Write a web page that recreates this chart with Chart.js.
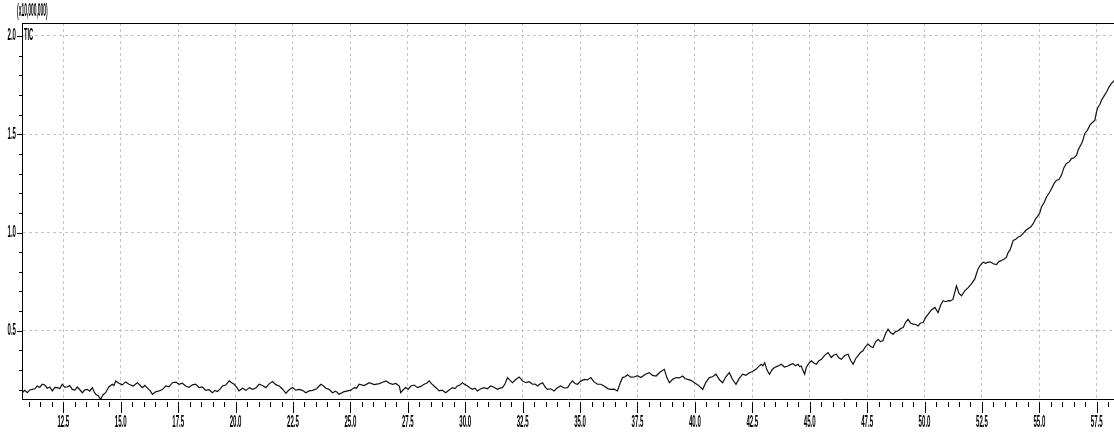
<!DOCTYPE html>
<html>
<head>
<meta charset="utf-8">
<script src="https://cdn.jsdelivr.net/npm/chart.js@4.4.0/dist/chart.umd.min.js"></script>
<style>
  html, body { margin: 0; padding: 0; background: #fff; }
  #wrap { width: 1114px; height: 443px; }
</style>
</head>
<body>
<div id="wrap"><canvas id="myChart" width="1114" height="443"></canvas></div>
<script>
// retention time (min) and TIC intensity (x10,000,000)
const times = [
  10.71, 10.82, 10.93, 11.04, 11.15, 11.26, 11.36, 11.47, 11.58, 11.69, 11.80, 11.91, 12.02, 12.13, 12.24, 12.35,
  12.45, 12.56, 12.67, 12.78, 12.89, 13.00, 13.11, 13.22, 13.33, 13.44, 13.54, 13.65, 13.76, 13.84, 13.91, 14.02,
  14.12, 14.23, 14.34, 14.48, 14.63, 14.70, 14.78, 14.92, 15.07, 15.21, 15.36, 15.54, 15.72, 15.83, 15.94, 16.05,
  16.16, 16.27, 16.38, 16.52, 16.67, 16.81, 16.96, 17.10, 17.25, 17.40, 17.54, 17.68, 17.83, 17.97, 18.12, 18.26,
  18.41, 18.55, 18.70, 18.84, 18.99, 19.10, 19.21, 19.32, 19.43, 19.57, 19.72, 19.83, 19.94, 20.04, 20.15, 20.30,
  20.45, 20.60, 20.74, 20.88, 21.03, 21.17, 21.32, 21.46, 21.61, 21.75, 21.90, 22.04, 22.19, 22.33, 22.48, 22.62,
  22.77, 22.91, 23.06, 23.20, 23.35, 23.53, 23.71, 23.82, 23.93, 24.07, 24.22, 24.36, 24.51, 24.70, 24.88, 25.02,
  25.17, 25.27, 25.38, 25.60, 25.82, 26.04, 26.26, 26.40, 26.55, 26.70, 26.84, 26.98, 27.13, 27.19, 27.30, 27.41,
  27.52, 27.63, 27.78, 27.92, 28.06, 28.21, 28.32, 28.43, 28.54, 28.64, 28.75, 28.86, 29.00, 29.15, 29.30, 29.44,
  29.55, 29.66, 29.77, 29.88, 29.99, 30.10, 30.20, 30.31, 30.42, 30.53, 30.68, 30.82, 30.96, 31.11, 31.25, 31.40,
  31.51, 31.62, 31.73, 31.84, 31.95, 32.06, 32.20, 32.35, 32.50, 32.64, 32.78, 32.93, 33.04, 33.15, 33.26, 33.37,
  33.48, 33.58, 33.72, 33.87, 34.01, 34.16, 34.31, 34.46, 34.56, 34.67, 34.78, 34.89, 35.03, 35.18, 35.32, 35.47,
  35.61, 35.76, 35.90, 36.05, 36.20, 36.34, 36.48, 36.63, 36.74, 36.85, 36.96, 37.07, 37.21, 37.36, 37.50, 37.65,
  37.83, 38.01, 38.16, 38.31, 38.49, 38.67, 38.78, 38.89, 39.03, 39.18, 39.32, 39.47, 39.58, 39.69, 39.83, 39.98,
  40.16, 40.34, 40.48, 40.63, 40.77, 40.92, 41.06, 41.21, 41.35, 41.50, 41.64, 41.79, 41.93, 42.08, 42.22, 42.37,
  42.51, 42.66, 42.77, 42.89, 42.96, 43.04, 43.14, 43.25, 43.36, 43.47, 43.61, 43.76, 43.90, 44.05, 44.16, 44.27,
  44.38, 44.49, 44.56, 44.63, 44.70, 44.78, 44.85, 44.96, 45.07, 45.18, 45.29, 45.40, 45.51, 45.65, 45.80, 45.94,
  46.05, 46.16, 46.27, 46.38, 46.52, 46.67, 46.78, 46.89, 47.00, 47.10, 47.21, 47.32, 47.43, 47.54, 47.65, 47.76,
  47.87, 47.98, 48.08, 48.19, 48.30, 48.41, 48.52, 48.63, 48.74, 48.85, 48.96, 49.07, 49.17, 49.28, 49.39, 49.50,
  49.61, 49.72, 49.83, 49.94, 50.05, 50.16, 50.30, 50.45, 50.59, 50.70, 50.81, 50.92, 51.03, 51.13, 51.24, 51.39,
  51.50, 51.61, 51.75, 51.90, 52.05, 52.19, 52.26, 52.33, 52.44, 52.55, 52.66, 52.77, 52.88, 52.99, 53.13, 53.24,
  53.35, 53.46, 53.57, 53.64, 53.71, 53.78, 53.86, 53.97, 54.08, 54.18, 54.29, 54.40, 54.51, 54.62, 54.73, 54.84,
  54.95, 55.02, 55.09, 55.20, 55.31, 55.42, 55.53, 55.64, 55.75, 55.85, 55.96, 56.07, 56.18, 56.29, 56.40, 56.51,
  56.62, 56.69, 56.76, 56.87, 56.98, 57.09, 57.20, 57.31, 57.42, 57.49, 57.56, 57.63, 57.71, 57.82, 57.93, 58.03,
  58.14, 58.29
]
const intensity = [
  0.185, 0.197, 0.185, 0.199, 0.202, 0.205, 0.219, 0.212, 0.228, 0.224, 0.208, 0.214, 0.194, 0.212, 0.211, 0.206,
  0.228, 0.213, 0.214, 0.221, 0.202, 0.198, 0.214, 0.200, 0.185, 0.200, 0.202, 0.193, 0.211, 0.190, 0.177, 0.170,
  0.151, 0.175, 0.185, 0.214, 0.228, 0.222, 0.245, 0.233, 0.225, 0.240, 0.228, 0.219, 0.236, 0.224, 0.211, 0.222,
  0.208, 0.197, 0.177, 0.190, 0.194, 0.201, 0.219, 0.215, 0.236, 0.239, 0.228, 0.233, 0.219, 0.212, 0.225, 0.229,
  0.211, 0.214, 0.197, 0.200, 0.185, 0.197, 0.191, 0.203, 0.219, 0.224, 0.245, 0.236, 0.228, 0.214, 0.194, 0.208,
  0.197, 0.211, 0.202, 0.209, 0.228, 0.222, 0.211, 0.230, 0.242, 0.226, 0.219, 0.204, 0.182, 0.200, 0.211, 0.198,
  0.202, 0.197, 0.185, 0.194, 0.197, 0.205, 0.228, 0.220, 0.208, 0.202, 0.185, 0.193, 0.177, 0.189, 0.194, 0.198,
  0.211, 0.208, 0.228, 0.221, 0.236, 0.226, 0.231, 0.238, 0.245, 0.233, 0.228, 0.232, 0.219, 0.185, 0.200, 0.211,
  0.203, 0.219, 0.224, 0.211, 0.217, 0.228, 0.233, 0.245, 0.230, 0.219, 0.208, 0.194, 0.198, 0.185, 0.199, 0.211,
  0.206, 0.219, 0.224, 0.236, 0.226, 0.219, 0.210, 0.202, 0.208, 0.194, 0.205, 0.211, 0.205, 0.219, 0.213, 0.202,
  0.208, 0.211, 0.229, 0.262, 0.248, 0.236, 0.252, 0.265, 0.244, 0.236, 0.241, 0.228, 0.229, 0.219, 0.229, 0.236,
  0.214, 0.202, 0.205, 0.194, 0.210, 0.219, 0.209, 0.211, 0.230, 0.245, 0.232, 0.228, 0.244, 0.253, 0.250, 0.262,
  0.240, 0.228, 0.228, 0.219, 0.206, 0.202, 0.203, 0.194, 0.232, 0.262, 0.266, 0.276, 0.264, 0.265, 0.272, 0.262,
  0.278, 0.287, 0.273, 0.270, 0.290, 0.304, 0.262, 0.236, 0.253, 0.262, 0.260, 0.270, 0.256, 0.253, 0.248, 0.236,
  0.222, 0.202, 0.238, 0.262, 0.266, 0.279, 0.252, 0.236, 0.266, 0.287, 0.252, 0.228, 0.258, 0.279, 0.274, 0.287,
  0.293, 0.304, 0.318, 0.330, 0.322, 0.338, 0.300, 0.279, 0.302, 0.313, 0.320, 0.330, 0.316, 0.321, 0.328, 0.333,
  0.322, 0.330, 0.318, 0.321, 0.300, 0.279, 0.313, 0.334, 0.347, 0.336, 0.330, 0.348, 0.355, 0.375, 0.389, 0.364,
  0.377, 0.381, 0.363, 0.355, 0.374, 0.381, 0.350, 0.330, 0.358, 0.372, 0.390, 0.398, 0.420, 0.432, 0.420, 0.415,
  0.444, 0.457, 0.445, 0.449, 0.485, 0.508, 0.490, 0.483, 0.496, 0.500, 0.512, 0.517, 0.542, 0.559, 0.540, 0.534,
  0.532, 0.525, 0.540, 0.542, 0.568, 0.585, 0.606, 0.619, 0.593, 0.630, 0.653, 0.648, 0.653, 0.652, 0.661, 0.729,
  0.690, 0.678, 0.703, 0.720, 0.740, 0.764, 0.790, 0.815, 0.836, 0.849, 0.843, 0.849, 0.850, 0.841, 0.837, 0.852,
  0.858, 0.864, 0.875, 0.898, 0.909, 0.930, 0.960, 0.966, 0.977, 0.982, 0.994, 1.010, 1.019, 1.028, 1.045, 1.070,
  1.087, 1.100, 1.130, 1.150, 1.181, 1.200, 1.223, 1.250, 1.266, 1.270, 1.291, 1.330, 1.351, 1.358, 1.376, 1.380,
  1.393, 1.420, 1.436, 1.460, 1.504, 1.520, 1.546, 1.560, 1.572, 1.615, 1.640, 1.650, 1.674, 1.695, 1.716, 1.740,
  1.759, 1.776
]
const xTicks = [12.5, 15.0, 17.5, 20.0, 22.5, 25.0, 27.5, 30.0, 32.5, 35.0, 37.5, 40.0, 42.5, 45.0, 47.5, 50.0, 52.5, 55.0, 57.5]
const yTicks = [0.5, 1.0, 1.5, 2.0]
const xRange = [10.70, 58.25]
const yRange = [0.153, 2.066]
const unitLabel = "(x10,000,000)"
const traceName = "TIC"

const points = times.map((t, i) => ({ x: t, y: intensity[i] }))

// squeezed bold text, like the instrument software
function squeezed(ctx, text, x, y, size, sx, align) {
  ctx.save()
  ctx.font = "bold " + size + "px 'Liberation Sans', Arial, sans-serif"
  ctx.textBaseline = "middle"
  const w = ctx.measureText(text).width * sx
  let left = x
  if (align === "center") left = x - w / 2
  if (align === "right") left = x - w
  ctx.translate(left, y)
  ctx.scale(sx, 1)
  ctx.textAlign = "left"
  ctx.fillStyle = "#000"
  ctx.fillText(text, 0, 0)
  ctx.restore()
}

const axisDecor = {
  id: "axisDecor",
  afterDraw(chart) {
    const ctx = chart.ctx
    const area = chart.chartArea
    const xs = chart.scales.x
    const ys = chart.scales.y
    ctx.save()
    ctx.strokeStyle = "#000"
    ctx.lineWidth = 1

    // top frame line
    ctx.beginPath()
    ctx.moveTo(area.left, 23.5)
    ctx.lineTo(area.right, 23.5)
    ctx.stroke()

    // x ticks every 0.5 min, long ones on the labelled values
    ctx.beginPath()
    for (let i = 22; i <= 116; i++) {
      const v = i / 2
      const px = Math.round(xs.getPixelForValue(v)) + 0.5
      const major = xTicks.includes(v)
      ctx.moveTo(px, area.bottom + 3)
      ctx.lineTo(px, area.bottom + (major ? 14 : 8))
    }
    ctx.stroke()

    // y ticks every 0.1
    ctx.beginPath()
    for (let i = 2; i <= 20; i++) {
      const v = i / 10
      const py = Math.round(ys.getPixelForValue(v)) + 0.5
      const major = i % 5 === 0
      ctx.moveTo(area.left, py)
      ctx.lineTo(area.left - (major ? 5 : 3), py)
    }
    ctx.stroke()
    ctx.restore()

    xTicks.forEach(v => {
      squeezed(ctx, v.toFixed(1), xs.getPixelForValue(v), 423, 16, 0.38, "center")
    })
    yTicks.forEach(v => {
      squeezed(ctx, v.toFixed(1), 16, ys.getPixelForValue(v), 16, 0.38, "right")
    })
    squeezed(ctx, unitLabel, 17, 11, 19, 0.26, "left")
    squeezed(ctx, traceName, 24, 36, 16, 0.36, "left")
  }
}

const ctx = document.getElementById("myChart").getContext("2d")
const myChart = new Chart(ctx, {
  type: "line",
  data: {
    datasets: [
      {
        label: traceName,
        data: points,
        borderColor: "#111",
        borderWidth: 1.2,
        pointRadius: 0,
        tension: 0,
        fill: false,
      },
    ],
  },
  options: {
    responsive: false,
    animation: false,
    layout: { padding: { left: 22, top: 23, right: 0, bottom: 44 } },
    plugins: {
      legend: { display: false },
      tooltip: { enabled: false },
    },
    scales: {
      x: {
        type: "linear",
        min: xRange[0],
        max: xRange[1],
        afterBuildTicks: (axis) => { axis.ticks = xTicks.map(v => ({ value: v })) },
        ticks: { display: false },
        grid: { color: "#c4c4c4", lineWidth: 1, drawTicks: false },
        border: { display: true, color: "#000", width: 1, dash: [3, 3] },
      },
      y: {
        type: "linear",
        min: yRange[0],
        max: yRange[1],
        afterBuildTicks: (axis) => { axis.ticks = yTicks.map(v => ({ value: v })) },
        ticks: { display: false },
        grid: { color: "#c4c4c4", lineWidth: 1, drawTicks: false },
        border: { display: true, color: "#000", width: 1, dash: [3, 3] },
      },
    },
  },
  plugins: [axisDecor],
})
</script>
</body>
</html>
